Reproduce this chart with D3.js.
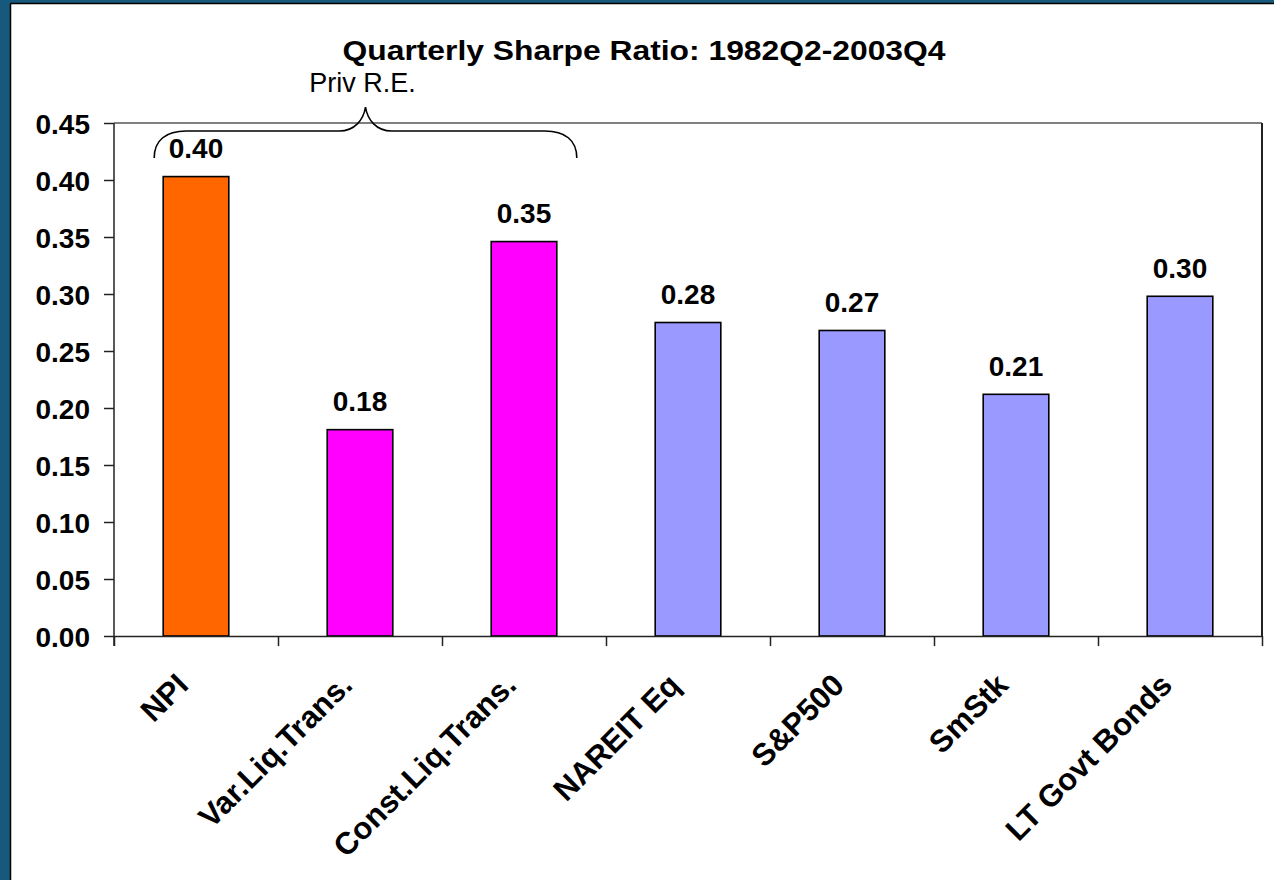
<!DOCTYPE html>
<html>
<head>
<meta charset="utf-8">
<script src="https://cdn.jsdelivr.net/npm/d3@7"></script>
<style>
  html, body { margin: 0; padding: 0; background: #16597d; }
  svg { display: block; }
  text { font-family: "Liberation Sans", Arial, sans-serif; fill: #000; }
</style>
</head>
<body>
<svg id="chart" width="1274" height="880"></svg>
<script>
// Quarterly Sharpe ratios, 1982Q2-2003Q4
const categories = ["NPI", "Var.Liq.Trans.", "Const.Liq.Trans.", "NAREIT Eq", "S&P500", "SmStk", "LT Govt Bonds"];
const sharpe     = [0.403, 0.181, 0.346, 0.275, 0.268, 0.212, 0.298];
const barColors  = ["#ff6600", "#ff00ff", "#ff00ff", "#9999ff", "#9999ff", "#9999ff", "#9999ff"];
const yTicks     = [0.00, 0.05, 0.10, 0.15, 0.20, 0.25, 0.30, 0.35, 0.40, 0.45];
const titleText  = "Quarterly Sharpe Ratio: 1982Q2-2003Q4";
const braceLabel = "Priv R.E.";
const braceGroup = ["NPI", "Const.Liq.Trans."];

const svg = d3.select("#chart");
const W = 1274, H = 880;
const plot = { left: 114, right: 1262, top: 123, bottom: 636 };

// slide frame: blue edge with a white panel
svg.append("rect").attr("width", W).attr("height", H).attr("fill", "#16597d");
svg.append("rect").attr("x", 11).attr("y", 4).attr("width", W - 11).attr("height", H - 4).attr("fill", "#fff");
svg.append("line").attr("x1", 10.5).attr("x2", 10.5).attr("y1", 3.5).attr("y2", H).attr("stroke", "#000").attr("stroke-width", 1.5);
svg.append("line").attr("x1", 10.5).attr("x2", W).attr("y1", 3.5).attr("y2", 3.5).attr("stroke", "#000").attr("stroke-width", 1.5);

const x = d3.scaleBand().domain(categories).range([plot.left, plot.right]).paddingInner(0.6).paddingOuter(0.3);
const xEdge = d3.scaleLinear().domain([0, categories.length]).range([plot.left, plot.right]);
const y = d3.scaleLinear().domain([0, 0.45]).range([plot.bottom, plot.top]);
const fmt = d3.format(".2f");

// plot-area border (top grey, right dark)
svg.append("line").attr("x1", plot.left).attr("x2", plot.right).attr("y1", plot.top).attr("y2", plot.top)
  .attr("stroke", "#808080").attr("stroke-width", 2);
svg.append("line").attr("x1", plot.right).attr("x2", plot.right).attr("y1", plot.top).attr("y2", plot.bottom)
  .attr("stroke", "#222").attr("stroke-width", 2);

// bars
svg.append("g").selectAll("rect").data(categories).join("rect")
  .attr("x", d => x(d))
  .attr("y", (d, i) => y(sharpe[i]))
  .attr("width", x.bandwidth())
  .attr("height", (d, i) => y(0) - y(sharpe[i]))
  .attr("fill", (d, i) => barColors[i])
  .attr("stroke", "#000").attr("stroke-width", 1.6);

// value labels
svg.append("g").selectAll("text").data(categories).join("text")
  .attr("x", d => x(d) + x.bandwidth() / 2)
  .attr("y", (d, i) => y(sharpe[i]) - 18.5)
  .attr("text-anchor", "middle")
  .style("font-size", "28px").style("font-weight", "bold")
  .text((d, i) => fmt(sharpe[i]));

// y axis
const yAxis = svg.append("g").attr("transform", `translate(${plot.left},0)`)
  .call(d3.axisLeft(y).tickValues(yTicks).tickFormat(fmt).tickSize(10).tickPadding(14).tickSizeOuter(0));
yAxis.select(".domain").attr("stroke", "#222").attr("stroke-width", 1.5);
yAxis.selectAll(".tick line").attr("stroke", "#222").attr("stroke-width", 1.5);
yAxis.selectAll(".tick text")
  .style("font-size", "28px").style("font-weight", "bold").style("font-family", "Liberation Sans, Arial, sans-serif")
  .attr("fill", "#000").attr("dy", "0.36em");
yAxis.select(".domain").attr("d", `M0,${plot.top}V${plot.bottom + 10}`);

// x axis: ticks on category boundaries
const xAxis = svg.append("g").attr("transform", `translate(0,${plot.bottom})`)
  .call(d3.axisBottom(xEdge).tickValues(d3.range(categories.length + 1)).tickSize(10).tickFormat("").tickSizeOuter(0));
xAxis.select(".domain").attr("stroke", "#222").attr("stroke-width", 1.5);
xAxis.selectAll(".tick line").attr("stroke", "#222").attr("stroke-width", 1.5);

// rotated category labels
svg.append("g").selectAll("text").data(categories).join("text")
  .attr("transform", d => `translate(${x(d) + x.bandwidth() / 2 - 6},${plot.bottom + 51}) rotate(-45)`)
  .attr("text-anchor", "end")
  .style("font-size", "31px").style("font-weight", "bold")
  .text(d => d);

// title
svg.append("text")
  .attr("x", 644).attr("y", 60)
  .attr("text-anchor", "middle")
  .attr("textLength", 603).attr("lengthAdjust", "spacingAndGlyphs")
  .style("font-size", "27px").style("font-weight", "bold")
  .text(titleText);

// brace over the private real-estate series
const bx0 = x(braceGroup[0]) - 9;
const bx1 = x(braceGroup[1]) + x.bandwidth() + 20;
const bmid = (bx0 + bx1) / 2;
const tipY = 158, barY = 131, peakY = 107;
const p = d3.path();
p.moveTo(bx0, tipY);
p.bezierCurveTo(bx0, tipY - 18, bx0 + 12, barY, bx0 + 32, barY);
p.lineTo(bmid - 26, barY);
p.bezierCurveTo(bmid - 11, barY, bmid - 2, barY - 11, bmid, peakY);
p.bezierCurveTo(bmid + 2, barY - 11, bmid + 11, barY, bmid + 26, barY);
p.lineTo(bx1 - 32, barY);
p.bezierCurveTo(bx1 - 12, barY, bx1, tipY - 18, bx1, tipY);
svg.append("path").attr("d", p.toString()).attr("fill", "none").attr("stroke", "#000").attr("stroke-width", 1.6);

svg.append("text")
  .attr("x", bmid - 3).attr("y", 92)
  .attr("text-anchor", "middle")
  .style("font-size", "27px")
  .text(braceLabel);
</script>
</body>
</html>
